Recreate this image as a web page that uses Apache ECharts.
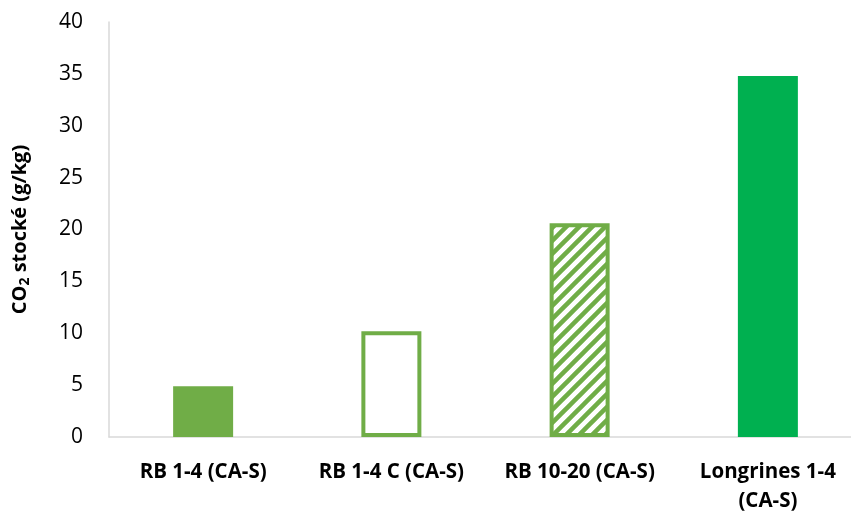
<!DOCTYPE html>
<html><head><meta charset="utf-8">
<script src="https://cdn.jsdelivr.net/npm/echarts@6/dist/echarts.min.js"></script>
<style>html,body{margin:0;padding:0;background:#fff}#c{width:851px;height:517px}</style>
</head><body><div id="c"></div>
<script>
var categories = ['RB 1-4 (CA-S)', 'RB 1-4 C (CA-S)', 'RB 10-20 (CA-S)', 'Longrines 1-4\n(CA-S)'];
var values = [4.9, 10.2, 20.6, 34.8];
var yTicks = [0, 5, 10, 15, 20, 25, 30, 35, 40];

var green = '#70AD47', green2 = '#00B050';
var FF = '"Open Sans", sans-serif';
function hatch() {
  var s = 13, c = document.createElement('canvas');
  c.width = s; c.height = s;
  var g = c.getContext('2d');
  g.fillStyle = '#fff'; g.fillRect(0, 0, s, s);
  g.strokeStyle = green; g.lineWidth = 4.5; g.lineCap = 'square';
  g.beginPath();
  g.moveTo(-1, s + 1); g.lineTo(s + 1, -1);
  g.moveTo(-s / 2 - 1, s / 2 + 1); g.lineTo(s / 2 + 1, -s / 2 - 1);
  g.moveTo(s / 2 - 1, s * 1.5 + 1); g.lineTo(s * 1.5 + 1, s / 2 - 1);
  g.stroke();
  return c;
}
var styles = [
  {color: green},
  {color: '#fff', borderColor: green, borderWidth: 4},
  {color: {image: hatch(), repeat: 'repeat'}, borderColor: green, borderWidth: 4},
  {color: green2}
];
var data = values.map(function (v, i) { return {value: v, itemStyle: styles[i]}; });

var chart = echarts.init(document.getElementById('c'), null, {renderer: 'canvas'});
chart.setOption({
  animation: false,
  textStyle: {fontFamily: FF},
  grid: {left: 109, right: -11, top: 22, bottom: 80, containLabel: false, outerBoundsMode: 'none'},
  xAxis: {
    type: 'category', data: categories,
    axisLine: {lineStyle: {color: '#d9d9d9', width: 1.5}},
    axisTick: {show: false},
    axisLabel: {color: '#000', fontWeight: 'bold', fontSize: 20.5, fontFamily: FF, lineHeight: 29, margin: 21, interval: 0}
  },
  yAxis: {
    type: 'value', min: yTicks[0], max: yTicks[yTicks.length - 1], interval: 5,
    name: '{a|CO}{s|2}{a| stocké (g/kg)}', nameLocation: 'middle', nameGap: 77,
    nameTextStyle: {rich: {
      a: {fontSize: 20, fontWeight: 'bold', color: '#000', fontFamily: FF},
      s: {fontSize: 14, fontWeight: 'bold', color: '#000', verticalAlign: 'bottom', padding: [10, 0, 0, 0], fontFamily: FF}
    }},
    axisLine: {show: true, lineStyle: {color: '#d9d9d9', width: 1.5}},
    axisTick: {show: false},
    splitLine: {show: false},
    axisLabel: {color: '#000', fontSize: 21, fontFamily: FF, margin: 26}
  },
  series: [{type: 'bar', data: data, barWidth: 60}]
});
</script></body></html>
